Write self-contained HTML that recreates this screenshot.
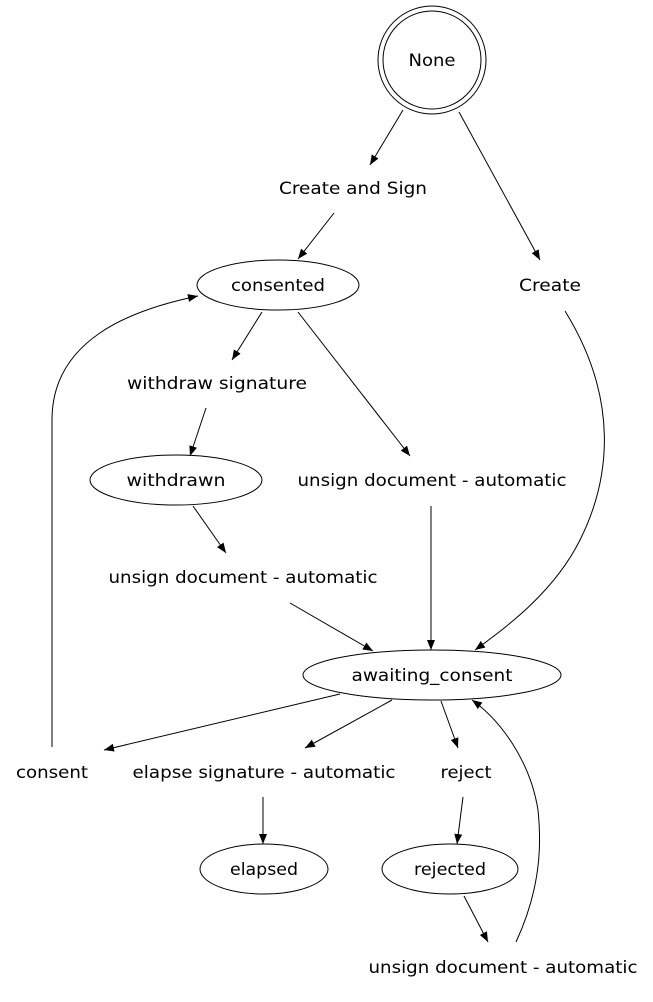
<!DOCTYPE html>
<html><head><meta charset="utf-8"><style>
html,body{margin:0;padding:0;background:#fff;}
svg text{font-family:"DejaVu Sans","Liberation Sans",sans-serif;font-size:16.5px;text-anchor:middle;fill:#000;}
</style></head><body>
<svg width="653" height="997" viewBox="0 0 653 997" xmlns="http://www.w3.org/2000/svg">
<defs>
<marker id="a" markerWidth="10" markerHeight="8" refX="10" refY="4" orient="auto" markerUnits="userSpaceOnUse">
<path d="M0,0 L10,4 L0,8 Z" fill="#000"/>
</marker>
</defs>
<g fill="none" stroke="#000" stroke-width="1">
<circle cx="432" cy="60" r="54"/>
<circle cx="432" cy="60" r="49"/>
<ellipse cx="278" cy="285" rx="81" ry="25"/>
<ellipse cx="176" cy="480" rx="86" ry="25"/>
<ellipse cx="432" cy="675" rx="129" ry="25"/>
<ellipse cx="264" cy="869" rx="64" ry="25"/>
<ellipse cx="450" cy="869" rx="68" ry="25"/>

<path d="M403,110 L370,165" marker-end="url(#a)"/>
<path d="M334,213 L298,259" marker-end="url(#a)"/>
<path d="M459,112 L540,260" marker-end="url(#a)"/>
<path d="M262,312 L232,360" marker-end="url(#a)"/>
<path d="M206,408 L190,456" marker-end="url(#a)"/>
<path d="M298,312 L410,456" marker-end="url(#a)"/>
<path d="M193,506 L226,553" marker-end="url(#a)"/>
<path d="M290,603 L373,651" marker-end="url(#a)"/>
<path d="M431,506 L431,650" marker-end="url(#a)"/>
<path d="M565,311 C620,400 610,480 580,540 C555,590 510,625 475,650" marker-end="url(#a)"/>
<path d="M340,694 L104,750" marker-end="url(#a)"/>
<path d="M392,700 L305,748" marker-end="url(#a)"/>
<path d="M441,701 L458,748" marker-end="url(#a)"/>
<path d="M263,797 L263,844" marker-end="url(#a)"/>
<path d="M463,797 L457,844" marker-end="url(#a)"/>
<path d="M464,896 L488,942" marker-end="url(#a)"/>
<path d="M516,942 C545,880 540,830 538,810 C530,760 500,720 472,700" marker-end="url(#a)"/>
<path d="M52,747 L52,420 C52,340 130,310 198,296" marker-end="url(#a)"/>
</g>
<text x="432" y="66" textLength="47" lengthAdjust="spacingAndGlyphs">None</text>
<text x="353" y="194" textLength="148" lengthAdjust="spacingAndGlyphs">Create and Sign</text>
<text x="550" y="291" textLength="62" lengthAdjust="spacingAndGlyphs">Create</text>
<text x="278" y="291" textLength="94" lengthAdjust="spacingAndGlyphs">consented</text>
<text x="217" y="389" textLength="180" lengthAdjust="spacingAndGlyphs">withdraw signature</text>
<text x="176" y="486" textLength="99" lengthAdjust="spacingAndGlyphs">withdrawn</text>
<text x="432" y="486" textLength="269" lengthAdjust="spacingAndGlyphs">unsign document - automatic</text>
<text x="243" y="583" textLength="269" lengthAdjust="spacingAndGlyphs">unsign document - automatic</text>
<text x="432" y="681" textLength="161" lengthAdjust="spacingAndGlyphs">awaiting_consent</text>
<text x="52" y="778" textLength="72" lengthAdjust="spacingAndGlyphs">consent</text>
<text x="264" y="778" textLength="263" lengthAdjust="spacingAndGlyphs">elapse signature - automatic</text>
<text x="466" y="778" textLength="51" lengthAdjust="spacingAndGlyphs">reject</text>
<text x="264" y="875" textLength="68" lengthAdjust="spacingAndGlyphs">elapsed</text>
<text x="450" y="875" textLength="72" lengthAdjust="spacingAndGlyphs">rejected</text>
<text x="503" y="973" textLength="269" lengthAdjust="spacingAndGlyphs">unsign document - automatic</text>
</svg>
</body></html>
